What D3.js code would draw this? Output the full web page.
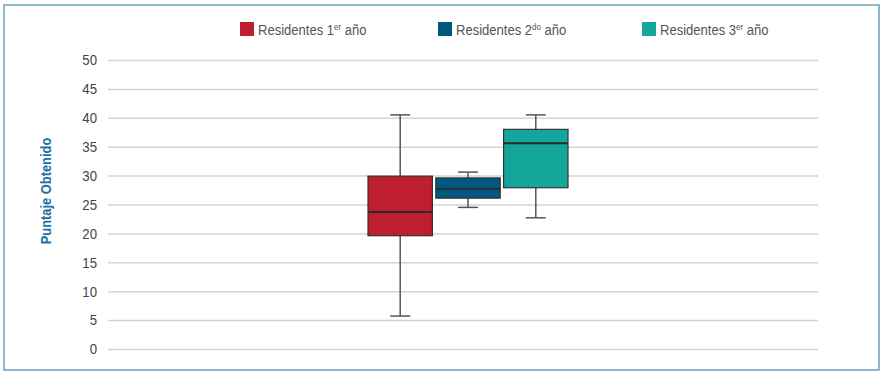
<!DOCTYPE html>
<html>
<head>
<meta charset="utf-8">
<script src="https://cdn.jsdelivr.net/npm/d3@7"></script>
<style>
  body { margin: 0; background: #fff; }
  svg { display: block; font-family: "Liberation Sans Narrow", "Arial Narrow", "Liberation Sans", Arial, sans-serif; }
</style>
</head>
<body>
<svg width="884" height="376"></svg>
<script>
// Chart data
let groups = ["g1", "g2", "g3"];
let groupLabels = ["Residentes 1", "Residentes 2", "Residentes 3"];
let groupSup = ["er", "do", "er"];
let groupColors = ["#be1e2d", "#00587f", "#12a79a"];
let whiskerLow = [5.7, 24.5, 22.7];
let q1 = [19.6, 26.1, 27.9];
let median = [23.7, 27.7, 35.6];
let q3 = [29.9, 29.6, 38.0];
let whiskerHigh = [40.5, 30.6, 40.5];
let yTicks = [0, 5, 10, 15, 20, 25, 30, 35, 40, 45, 50];

let svg = d3.select("svg");

// outer frame
svg.append("rect")
  .attr("x", 4).attr("y", 5)
  .attr("width", 875).attr("height", 365)
  .attr("fill", "none")
  .attr("stroke", "#6a9fc0")
  .attr("stroke-width", 1.5);

let y = d3.scaleLinear().domain([0, 50]).range([349, 60]);
let x = d3.scaleBand().domain(groups).range([368, 568]).paddingInner(0.05);

// y axis + gridlines
let yAxis = svg.append("g")
  .attr("transform", "translate(108,0)")
  .call(d3.axisLeft(y).tickValues(yTicks).tickSize(-710).tickPadding(11));
yAxis.select(".domain").remove();
yAxis.selectAll(".tick line").attr("stroke", "#d3d3d3").attr("stroke-width", 1.5);
yAxis.selectAll(".tick text")
  .attr("fill", "#444")
  .attr("transform", "translate(-11,0) scale(0.88,1) translate(11,0)")
  .style("font-size", "15px")
  .style("font-family", "inherit");

// y axis label
svg.append("text")
  .attr("transform", "translate(51,191) rotate(-90) scale(0.92,1)")
  .attr("text-anchor", "middle")
  .attr("fill", "#1b6fa3")
  .style("font-size", "14px")
  .style("font-weight", "bold")
  .text("Puntaje Obtenido");

// boxes
let boxes = svg.append("g").selectAll("g")
  .data(groups)
  .enter().append("g");

let cap = 20;

// whisker stems
boxes.append("line")
  .attr("x1", d => x(d) + x.bandwidth() / 2)
  .attr("x2", d => x(d) + x.bandwidth() / 2)
  .attr("y1", (d, i) => y(whiskerLow[i]))
  .attr("y2", (d, i) => y(whiskerHigh[i]))
  .attr("stroke", "#555").attr("stroke-width", 1.5);

// caps
boxes.each(function(d, i) {
  let g = d3.select(this);
  [whiskerLow[i], whiskerHigh[i]].forEach(v => {
    g.append("line")
      .attr("x1", x(d) + x.bandwidth() / 2 - cap / 2)
      .attr("x2", x(d) + x.bandwidth() / 2 + cap / 2)
      .attr("y1", y(v)).attr("y2", y(v))
      .attr("stroke", "#555").attr("stroke-width", 1.5);
  });
});

boxes.append("rect")
  .attr("x", d => x(d))
  .attr("y", (d, i) => y(q3[i]))
  .attr("width", x.bandwidth())
  .attr("height", (d, i) => y(q1[i]) - y(q3[i]))
  .attr("fill", (d, i) => groupColors[i])
  .attr("stroke", "#333").attr("stroke-width", 1.2);

boxes.append("line")
  .attr("x1", d => x(d))
  .attr("x2", d => x(d) + x.bandwidth())
  .attr("y1", (d, i) => y(median[i]))
  .attr("y2", (d, i) => y(median[i]))
  .attr("stroke", "#2a2a2a").attr("stroke-width", 1.8);

// legend
let legendX = [240, 438, 642];
let legend = svg.append("g").selectAll("g")
  .data(groups)
  .enter().append("g")
  .attr("transform", (d, i) => "translate(" + legendX[i] + ",22)");

legend.append("rect")
  .attr("width", 14).attr("height", 14)
  .attr("fill", (d, i) => groupColors[i]);

let lt = legend.append("text")
  .attr("transform", "translate(18,12.5) scale(0.87,1)")
  .attr("fill", "#555")
  .style("font-size", "15px");
lt.append("tspan").text((d, i) => groupLabels[i]);
lt.append("tspan")
  .attr("dy", -5)
  .style("font-size", "9px")
  .text((d, i) => groupSup[i]);
lt.append("tspan")
  .attr("dy", 5)
  .text(" año");
</script>
</body>
</html>
